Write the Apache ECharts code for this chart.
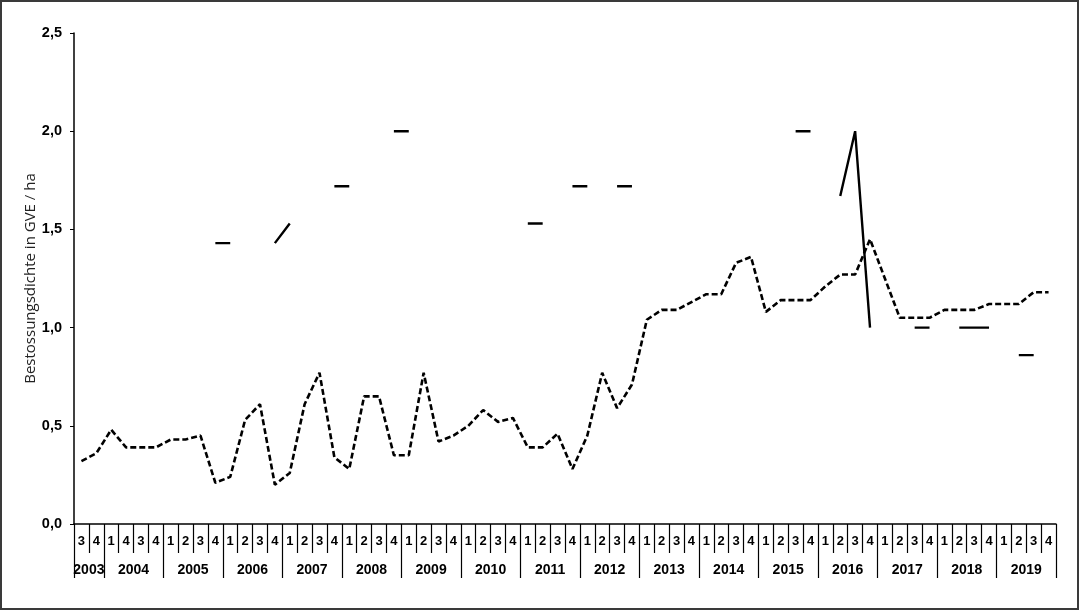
<!DOCTYPE html>
<html>
<head>
<meta charset="utf-8">
<script src="https://cdn.jsdelivr.net/npm/echarts@6/dist/echarts.min.js"></script>
<style>
  html, body { margin: 0; padding: 0; background: #fff; }
  #wrap { position: relative; width: 1079px; height: 610px; }
  #main { width: 1079px; height: 610px; }
  #frame { position: absolute; left: 0; top: 0; width: 1079px; height: 610px;
           box-sizing: border-box; border: 2px solid #3a3a3a; pointer-events: none; }
</style>
</head>
<body>
<div id="wrap">
  <div id="main"></div>
  <div id="frame"></div>
</div>
<script>
// Jahre und Quartale (2003 beginnt mit Q3)
var years = ['2003', '2004', '2005', '2006', '2007', '2008', '2009', '2010', '2011',
             '2012', '2013', '2014', '2015', '2016', '2017', '2018', '2019'];
var quarterLabels = [
  '3', '4',
  '1', '4', '3', '4',          // so in der Vorlage beschriftet
  '1', '2', '3', '4', '1', '2', '3', '4', '1', '2', '3', '4', '1', '2', '3', '4',
  '1', '2', '3', '4', '1', '2', '3', '4', '1', '2', '3', '4', '1', '2', '3', '4',
  '1', '2', '3', '4', '1', '2', '3', '4', '1', '2', '3', '4', '1', '2', '3', '4',
  '1', '2', '3', '4', '1', '2', '3', '4', '1', '2', '3', '4'
];
// gestrichelte Linie
var dashedValues = [
  0.32, 0.36,
  0.48, 0.39, 0.39, 0.39,
  0.43, 0.43, 0.45, 0.21,
  0.24, 0.53, 0.61, 0.20,
  0.26, 0.61, 0.77, 0.34,
  0.28, 0.65, 0.65, 0.35,
  0.35, 0.77, 0.42, 0.45,
  0.50, 0.58, 0.52, 0.54,
  0.39, 0.39, 0.46, 0.28,
  0.45, 0.77, 0.59, 0.71,
  1.04, 1.09, 1.09, 1.13,
  1.17, 1.17, 1.33, 1.36,
  1.08, 1.14, 1.14, 1.14,
  1.21, 1.27, 1.27, 1.45,
  1.25, 1.05, 1.05, 1.05,
  1.09, 1.09, 1.09, 1.12,
  1.12, 1.12, 1.18, 1.18
];
// durchgezogene Linie (mit Lücken)
var solidValues = [
  null, null,
  null, null, null, null,
  null, null, null, 1.43,
  1.43, null, null, 1.43,
  1.53, null, null, 1.72,
  1.72, null, null, 2.00,
  2.00, null, null, null,
  null, null, null, null,
  1.53, 1.53, null, 1.72,
  1.72, null, 1.72, 1.72,
  null, null, null, null,
  null, null, null, null,
  null, null, 2.00, 2.00,
  null, 1.67, 2.00, 1.00,
  null, null, 1.00, 1.00,
  null, 1.00, 1.00, 1.00,
  null, 0.86, 0.86, null
];

// Jahr je Quartal-Kategorie
var categoryYears = [];
for (var k = 0; k < years.length; k++) {
  var n = (k === 0) ? 2 : 4;
  for (var j = 0; j < n; j++) categoryYears.push(years[k]);
}

var gridLeft = 74, gridRight = 23;
var bandWidth = (1079 - gridLeft - gridRight) / quarterLabels.length;

var myChart = echarts.init(document.getElementById('main'));
var option = {
  animation: false,
  grid: { left: gridLeft, right: gridRight, top: 33, bottom: 86 },
  xAxis: [{
    type: 'category',
    data: quarterLabels,
    position: 'bottom',
    boundaryGap: true,
    axisLine: { show: true, lineStyle: { color: '#000', width: 1.5 } },
    axisTick: { show: true, interval: 0, alignWithLabel: false, length: 29,
                lineStyle: { color: '#000', width: 1.2 } },
    axisLabel: {
      interval: 0, margin: 11, color: '#000',
      fontFamily: 'Liberation Sans', fontWeight: 'bold', fontSize: 13
    }
  }, {
    type: 'category',
    data: categoryYears,
    position: 'bottom',
    offset: 29,
    boundaryGap: true,
    axisLine: { show: false },
    axisTick: {
      show: true,
      alignWithLabel: false,
      length: 25,
      interval: function (i) { return i === 0 || (i >= 2 && (i - 2) % 4 === 0); },
      lineStyle: { color: '#000', width: 1.2 }
    },
    axisLabel: {
      margin: 10,
      interval: function (i) { return i === 0 || (i + 1) % 4 === 0; },
      formatter: function (v) { return '{y|' + v + '}'; },
      rich: {
        y: {
          padding: [0, 0, 0, bandWidth], color: '#000',
          fontFamily: 'Liberation Sans', fontWeight: 'bold', fontSize: 14
        }
      }
    }
  }],
  yAxis: {
    type: 'value',
    min: 0, max: 2.5, interval: 0.5,
    name: 'Bestossungsdichte in GVE / ha',
    nameLocation: 'middle',
    nameGap: 36,
    nameMoveOverlap: false,
    nameTextStyle: { fontFamily: 'Open Sans', fontSize: 15, color: '#222' },
    splitLine: { show: false },
    axisLine: { show: true, lineStyle: { color: '#000', width: 1.5 } },
    axisTick: { show: true, length: 4, lineStyle: { color: '#000' } },
    axisLabel: {
      margin: 12, color: '#000',
      fontFamily: 'Liberation Sans', fontWeight: 'bold', fontSize: 14.5,
      formatter: function (v) { return v.toFixed(1).replace('.', ','); }
    }
  },
  series: [{
    type: 'line',
    data: dashedValues,
    symbol: 'none',
    lineStyle: { color: '#000', width: 2.6, type: [6, 3] }
  }, {
    type: 'line',
    data: solidValues,
    symbol: 'none',
    connectNulls: false,
    lineStyle: { color: '#000', width: 2.4 }
  }]
};
myChart.setOption(option);
</script>
</body>
</html>
